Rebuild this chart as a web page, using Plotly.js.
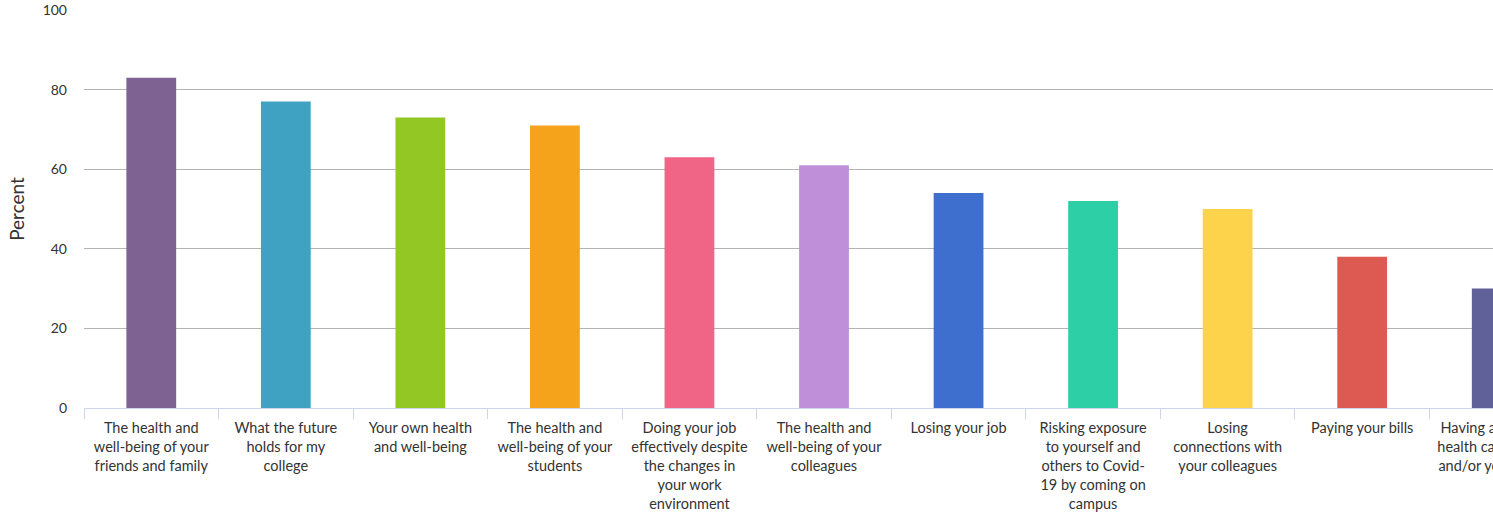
<!DOCTYPE html>
<html><head><meta charset="utf-8">
<script src="https://cdn.plot.ly/plotly-3.0.1.min.js"></script>
<style>html,body{margin:0;padding:0;overflow:hidden;background:#fff;width:1493px;height:513px}</style>
</head><body>
<div id="chart"></div>
<script>
const categories = [
  "The health and<br>well-being of your<br>friends and family",
  "What the future<br>holds for my<br>college",
  "Your own health<br>and well-being",
  "The health and<br>well-being of your<br>students",
  "Doing your job<br>effectively despite<br>the changes in<br>your work<br>environment",
  "The health and<br>well-being of your<br>colleagues",
  "Losing your job",
  "Risking exposure<br>to yourself and<br>others to Covid-<br>19 by coming on<br>campus",
  "Losing<br>connections with<br>your colleagues",
  "Paying your bills",
  "Having affordable<br>health care for you<br>and/or your family"
];
const values = [83, 77, 73, 71, 63, 61, 54, 52, 50, 38, 30];
const colors = ["#7e6291","#40a2c2","#92c724","#f5a31b","#f06586","#bf8fd9","#3e6fcf","#2ccfa6","#fcd34a","#dc5a52","#616199"];
const yTicks = [0, 20, 40, 60, 80, 100];

Plotly.newPlot("chart", [{
  type: "bar",
  x: categories,
  y: values,
  marker: {color: colors},
  hoverinfo: "x+y"
}], {
  width: 1580, height: 513,
  margin: {l: 84, r: 16, t: 10, b: 105},
  bargap: 0.63,
  showlegend: false,
  font: {family: "Lato, 'Open Sans', sans-serif", color: "#333"},
  plot_bgcolor: "#fff", paper_bgcolor: "#fff",
  xaxis: {
    tickson: "boundaries", ticks: "outside", ticklen: 10, tickcolor: "#ccd6eb", tickwidth: 1,
    showline: true, linecolor: "#ccd6eb", showgrid: false,
    tickfont: {size: 14.5, color: "#333"}, tickangle: 0, automargin: false,
    ticklabelstandoff: 7,
    range: [-0.5, 10.5]
  },
  yaxis: {
    range: [0, 100], tickvals: yTicks, ticktext: yTicks.map(String),
    gridcolor: "#b3b3b3", gridwidth: 1, zeroline: true, zerolinecolor: "#b3b3b3",
    tickfont: {size: 14, color: "#333"}, ticks: "", ticklabelstandoff: 16,
    title: {text: "Percent", font: {size: 19, color: "#333"}, standoff: 12},
    automargin: false
  }
}, {displayModeBar: false, staticPlot: true});
</script>
</body></html>
